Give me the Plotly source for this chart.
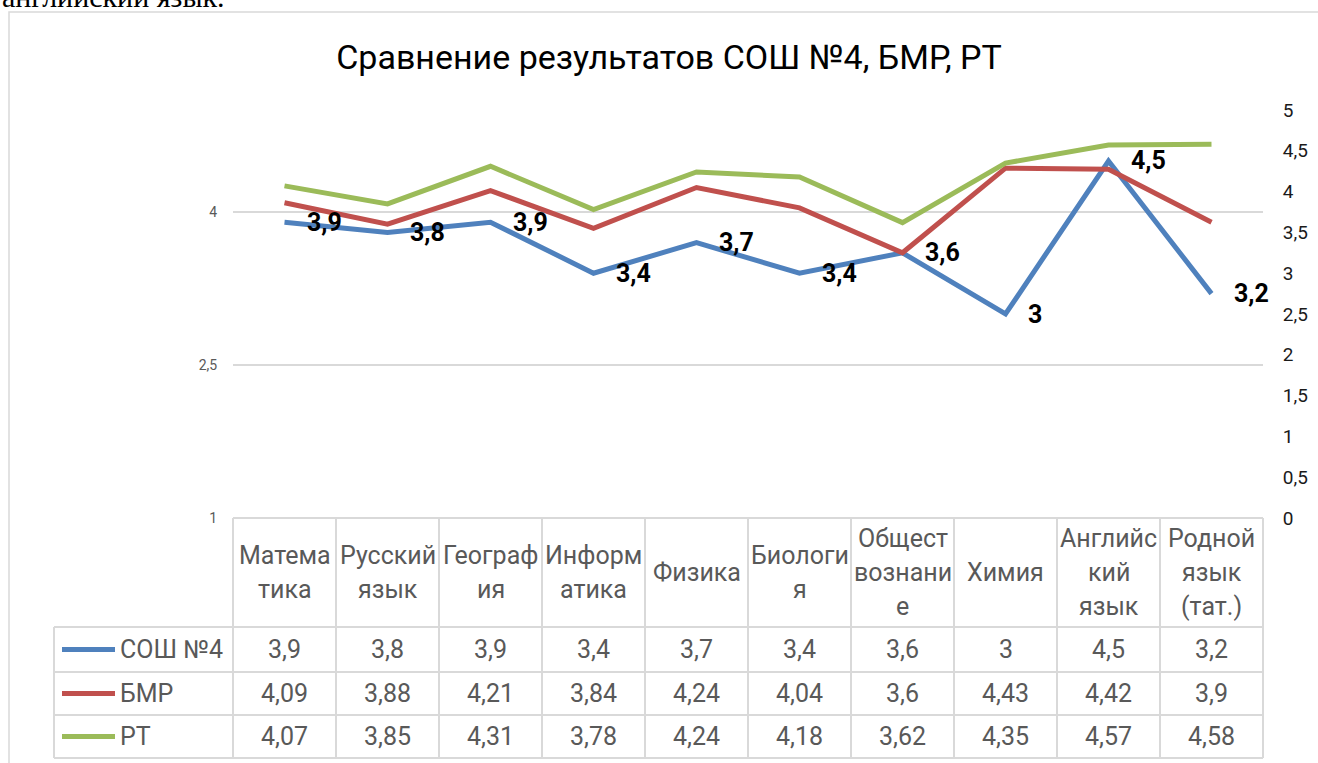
import plotly.graph_objects as go

# ---------------- data ----------------
subjects = ["Математика", "Русский язык", "География", "Информатика", "Физика",
            "Биология", "Обществознание", "Химия", "Английский язык", "Родной язык (тат.)"]
header_lines = [["Матема", "тика"], ["Русский", "язык"], ["Географ", "ия"], ["Информ", "атика"],
                ["Физика"], ["Биологи", "я"], ["Общест", "вознани", "е"], ["Химия"],
                ["Английс", "кий", "язык"], ["Родной", "язык", "(тат.)"]]
sosh4 = [3.9, 3.8, 3.9, 3.4, 3.7, 3.4, 3.6, 3.0, 4.5, 3.2]
bmr = [4.09, 3.88, 4.21, 3.84, 4.24, 4.04, 3.6, 4.43, 4.42, 3.9]
rt = [4.07, 3.85, 4.31, 3.78, 4.24, 4.18, 3.62, 4.35, 4.57, 4.58]
series_names = ["СОШ №4", "БМР", "РТ"]
left_ticks = [1, 2.5, 4]
right_ticks = [0, 0.5, 1, 1.5, 2, 2.5, 3, 3.5, 4, 4.5, 5]
title_text = "Сравнение результатов СОШ №4, БМР, РТ"
above_text = "английский язык."

# ---------------- style / geometry ----------------
W, H = 1318, 763
colors = ["#4F81BD", "#C0504D", "#9BBB59"]
FONT = "Roboto"
GRID = "#D9D9D9"
TXT = "#595959"
PL, PR, PT, PB = 233, 1263, 110, 518          # plot area (pixels)
HEAD_B = 627                                   # header row bottom
ROW_B = [672, 715, 758]                        # bottoms of the 3 data rows
LEG_L = 54                                     # left edge of legend column
TSIZE = 25


def px(x):
    return x / W


def py(y):
    return 1 - y / H


def fmt(v):
    return f"{v:g}".replace(".", ",")


fig = go.Figure()
xs = list(range(len(subjects)))
all_series = [sosh4, bmr, rt]
axes_of = ["y", "y", "y2"]
for name, vals, col, ax in zip(series_names, all_series, colors, axes_of):
    fig.add_trace(go.Scatter(x=xs, y=vals, name=name, mode="lines", yaxis=ax,
                             line=dict(color=col, width=5), hoverinfo="name+y"))

annotations = []
# data labels for СОШ №4
for i, v in enumerate(sosh4):
    annotations.append(dict(x=i, y=v, xref="x", yref="y", text=f"<b>{fmt(v)}</b>", showarrow=False,
                            xanchor="left", yanchor="middle", xshift=20,
                            font=dict(family=FONT, size=25, color="#000000")))

# header row of table
head_c = (PB + HEAD_B) / 2
LS = 34
for i, lines in enumerate(header_lines):
    n = len(lines)
    for k, ln in enumerate(lines):
        yc = head_c + (k - (n - 1) / 2) * LS
        annotations.append(dict(x=i, y=py(yc), xref="x", yref="paper", text=ln, showarrow=False,
                                xanchor="center", yanchor="middle",
                                font=dict(family=FONT, size=TSIZE, color=TXT)))

# value rows
row_tops = [HEAD_B] + ROW_B[:-1]
for r, (name, vals) in enumerate(zip(series_names, all_series)):
    yc = (row_tops[r] + ROW_B[r]) / 2
    for i, v in enumerate(vals):
        annotations.append(dict(x=i, y=py(yc), xref="x", yref="paper", text=fmt(v), showarrow=False,
                                xanchor="center", yanchor="middle",
                                font=dict(family=FONT, size=TSIZE, color=TXT)))
    annotations.append(dict(x=px(118), y=py(yc), xref="paper", yref="paper", text=name, showarrow=False,
                            xanchor="left", yanchor="middle",
                            font=dict(family=FONT, size=TSIZE, color=TXT)))

# cut-off text of the document above the chart
annotations.append(dict(x=px(0), y=py(-3), xref="paper", yref="paper", text=above_text, showarrow=False,
                        xanchor="left", yanchor="middle",
                        font=dict(family="Liberation Serif", size=30, color="#000000")))

shapes = []
# chart frame
shapes.append(dict(type="rect", xref="paper", yref="paper", x0=px(9), x1=px(W + 20), y0=py(12), y1=py(H + 20),
                   line=dict(color=GRID, width=1.5), layer="below"))
# table horizontal lines
shapes.append(dict(type="line", xref="paper", yref="paper", x0=px(PL), x1=px(PR), y0=py(PB), y1=py(PB),
                   line=dict(color=GRID, width=2)))
for yb in [HEAD_B] + ROW_B:
    shapes.append(dict(type="line", xref="paper", yref="paper", x0=px(LEG_L), x1=px(PR), y0=py(yb), y1=py(yb),
                       line=dict(color=GRID, width=2)))
# table vertical lines
colw = (PR - PL) / len(subjects)
for k in range(len(subjects) + 1):
    xk = PL + k * colw
    shapes.append(dict(type="line", xref="paper", yref="paper", x0=px(xk), x1=px(xk), y0=py(PB), y1=py(ROW_B[-1]),
                       line=dict(color=GRID, width=2)))
shapes.append(dict(type="line", xref="paper", yref="paper", x0=px(LEG_L), x1=px(LEG_L), y0=py(HEAD_B),
                   y1=py(ROW_B[-1]), line=dict(color=GRID, width=2)))
# legend keys
for r, col in enumerate(colors):
    yc = (row_tops[r] + ROW_B[r]) / 2
    shapes.append(dict(type="line", xref="paper", yref="paper", x0=px(62), x1=px(115), y0=py(yc), y1=py(yc),
                       line=dict(color=col, width=5)))

fig.update_layout(
    width=W, height=H, margin=dict(l=0, r=0, t=0, b=0, pad=0, autoexpand=False),
    paper_bgcolor="white", plot_bgcolor="white", showlegend=False,
    separators=", ",
    title=dict(text=title_text, x=px(669), y=py(57), xanchor="center", yanchor="middle",
               xref="paper", yref="container",
               font=dict(family=FONT, size=34, color="#000000")),
    xaxis=dict(domain=[px(PL), px(PR)], range=[-0.5, len(subjects) - 0.5], showticklabels=False,
               showgrid=False, zeroline=False, showline=False, ticks="", automargin=False),
    yaxis=dict(domain=[py(PB), py(PT)], range=[1, 5], tickvals=left_ticks, showgrid=True,
               gridcolor=GRID, gridwidth=2, zeroline=False, showline=False, automargin=False,
               ticks="outside", ticklen=12, tickcolor="rgba(0,0,0,0)",
               tickfont=dict(family=FONT, size=14, color=TXT)),
    yaxis2=dict(domain=[py(PB), py(PT)], range=[0, 5], tickvals=right_ticks, overlaying="y", side="right",
                showgrid=False, zeroline=False, showline=False, automargin=False,
                ticks="outside", ticklen=15, tickcolor="rgba(0,0,0,0)",
                tickfont=dict(family=FONT, size=19, color="#1A1A1A")),
    annotations=annotations, shapes=shapes,
    font=dict(family=FONT),
)

fig.write_html("out.html", config={"displayModeBar": False},
               post_script="document.body.style.margin='0';document.body.style.overflow='hidden';")
